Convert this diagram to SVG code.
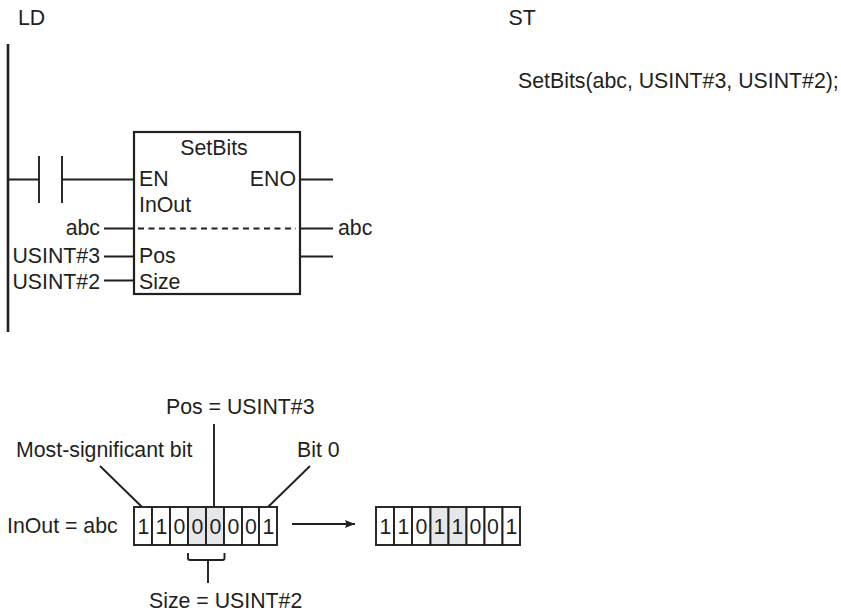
<svg xmlns="http://www.w3.org/2000/svg" width="841" height="612" viewBox="0 0 841 612">
<style>
text{font-family:"Liberation Sans",Arial,sans-serif;font-size:21.300px;fill:#231f20}
.m{text-anchor:middle}.e{text-anchor:end}
.l{stroke:#231f20;stroke-width:1.9;fill:none}
.t{stroke:#231f20;stroke-width:2.2;fill:none}
.c{fill:#fff;stroke:#231f20;stroke-width:1.9}
.g{fill:#e6e7e8;stroke:#231f20;stroke-width:1.9}
</style>
<defs><marker id="a" markerWidth="12" markerHeight="8" refX="10" refY="4" orient="auto" markerUnits="userSpaceOnUse"><path d="M0 0L10 4L0 8L1.500 4Z" fill="#231f20"/></marker></defs>
<g id="titles"><text x="18" y="25">LD</text><text x="508.500" y="25">ST</text><text x="518" y="88">SetBits(abc, USINT#3, USINT#2);</text></g>
<g id="connectors">
<path class="t" d="M8 44V332" style="stroke-width:2.6"/>
<path class="l" d="M8 179.500H39M39 156V203M62 156V203M62 179.500H134M300 179.500H333M104 228.500H134M300 228.500H333M104 256.500H134M300 256.500H333M104 280.500H134"/>
<path class="l" stroke-dasharray="6 4.500" d="M138 228.500H296"/>
<path class="l" d="M100 466L142 507M214 424V507M310 466L268 507M188 553V558Q188 560 190 560H222.500Q224.500 560 224.500 558V553M208 560V583"/>
<path class="l" marker-end="url(#a)" d="M292 524H355"/>
</g>
<g id="block"><rect class="t" x="134" y="132" width="166" height="162"/>
<text class="m" x="214" y="155">SetBits</text><text x="139" y="186">EN</text><text class="e" x="296" y="186">ENO</text><text x="139" y="212">InOut</text><text x="139" y="263">Pos</text><text x="139" y="289">Size</text></g>
<g id="params"><text class="e" x="100" y="235">abc</text><text x="338" y="235">abc</text><text class="e" x="100" y="263">USINT#3</text><text class="e" x="100" y="289">USINT#2</text></g>
<g id="bits-in">
<rect class="c" x="134" y="507" width="18" height="38"/><rect class="c" x="152" y="507" width="18" height="38"/><rect class="c" x="170" y="507" width="18" height="38"/><rect class="g" x="188" y="507" width="18" height="38"/><rect class="g" x="206" y="507" width="18" height="38"/><rect class="c" x="224" y="507" width="18" height="38"/><rect class="c" x="242" y="507" width="17" height="38"/><rect class="c" x="259" y="507" width="18" height="38"/>
<text class="m" x="143.500" y="533.500">1</text><text class="m" x="161.500" y="533.500">1</text><text class="m" x="179.500" y="533.500">0</text><text class="m" x="197.500" y="533.500">0</text><text class="m" x="215.500" y="533.500">0</text><text class="m" x="233.500" y="533.500">0</text><text class="m" x="251" y="533.500">0</text><text class="m" x="268.500" y="533.500">1</text>
</g>
<g id="bits-out">
<rect class="c" x="376" y="507" width="18" height="38"/><rect class="c" x="394" y="507" width="18" height="38"/><rect class="c" x="412" y="507" width="18.500" height="38"/><rect class="g" x="430.500" y="507" width="18" height="38"/><rect class="g" x="448.500" y="507" width="18" height="38"/><rect class="c" x="466.500" y="507" width="18" height="38"/><rect class="c" x="484.500" y="507" width="18" height="38"/><rect class="c" x="502.500" y="507" width="17.500" height="38"/>
<text class="m" x="385.500" y="533.500">1</text><text class="m" x="403.500" y="533.500">1</text><text class="m" x="421.500" y="533.500">0</text><text class="m" x="439.500" y="533.500">1</text><text class="m" x="457.500" y="533.500">1</text><text class="m" x="475.500" y="533.500">0</text><text class="m" x="493" y="533.500">0</text><text class="m" x="511.500" y="533.500">1</text>
</g>
<g id="labels"><text x="166" y="414">Pos = USINT#3</text><text x="16" y="457">Most-significant bit</text><text x="297" y="457">Bit 0</text><text x="7" y="533">InOut = abc</text><text x="149" y="608">Size = USINT#2</text></g>
</svg>
